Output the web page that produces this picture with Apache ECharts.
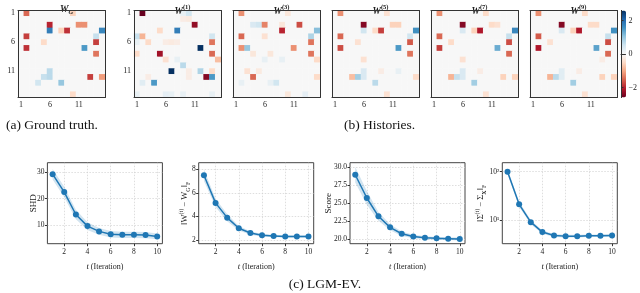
<!DOCTYPE html>
<html><head><meta charset="utf-8">
<script src="https://cdn.jsdelivr.net/npm/echarts@6/dist/echarts.min.js"></script>
<style>html,body{margin:0;padding:0;background:#fff}#c{width:640px;height:293px}</style>
</head><body><div id="c"></div>
<script>
const nodes = ['1','2','3','4','5','6','7','8','9','10','11','12','13','14','15'];
// sparse matrices: [row, col, value] (1-based)
const W_G = [[1,2,-1.5],[1,10,-0.6],[3,6,-2.0],[3,11,-1.2],[3,12,-1.2],[4,6,1.8],[4,8,-0.6],[4,9,-1.9],[4,15,1.7],
  [5,2,-1.8],[5,14,0.6],[6,5,-0.5],[6,14,-1.8],[7,2,-1.9],[7,12,1.5],[8,14,-1.4],[11,6,0.7],[12,5,0.6],[12,6,0.7],
  [12,13,-1.8],[12,15,-1.1],[13,4,0.5],[13,8,1.0],[15,10,-0.5]];
const W_1 = [[1,2,-2.6],[1,9,0.2],[1,10,0.5],[2,9,-0.2],[2,10,-0.25],[3,11,-2.3],[4,5,-0.5],[4,8,1.8],[5,1,0.6],[5,2,-0.9],
  [5,14,0.5],[6,1,0.2],[6,3,-0.5],[6,6,-0.2],[6,7,-0.25],[6,8,-0.2],[6,14,-1.4],[7,12,2.6],[8,1,-0.5],[8,5,-2.2],[8,14,-1.5],
  [9,6,-0.4],[9,8,0.2],[9,15,-0.8],[10,9,0.7],[11,7,2.6],[11,10,-0.2],[11,12,0.8],[11,14,-0.5],[12,3,-0.2],[12,10,-0.2],
  [12,13,-2.4],[12,14,1.5],[13,2,0.3],[13,4,1.5],[15,1,0.2],[15,6,0.25],[15,7,0.2],[15,9,0.2],[15,14,0.2]];
const W_3 = [[1,2,-1.2],[1,10,-0.3],[3,4,0.4],[3,5,0.5],[3,6,-1.3],[3,9,-0.3],[3,12,-1.7],[4,9,-2.0],[4,15,1.1],[5,2,-1.5],
  [5,6,-0.4],[5,14,0.8],[6,14,-1.4],[7,2,-1.2],[7,3,1.0],[7,11,-1.2],[8,4,-0.3],[8,7,-0.3],[8,14,-1.4],[9,6,0.2],[9,9,0.2],
  [9,15,-0.5],[11,3,-0.4],[11,5,-0.25],[12,4,-1.5],[12,15,-0.5],[13,2,0.2],[13,7,0.2],[13,8,0.5],[15,10,-0.3],[15,13,0.25]];
const W_5 = [[1,2,-1.2],[1,10,-0.4],[3,6,-2.4],[3,11,-0.6],[3,12,-0.6],[4,6,0.5],[4,8,-0.5],[4,9,-1.8],[4,15,1.6],[5,2,-1.5],
  [5,14,0.5],[6,5,-0.4],[6,14,-1.6],[7,2,-1.7],[7,12,1.5],[8,14,-1.4],[9,6,-0.4],[11,6,0.4],[11,9,-0.2],[11,12,0.2],
  [12,4,-0.8],[12,5,0.9],[12,6,0.4],[12,15,-0.5],[13,8,0.7],[15,10,-0.4]];
const W_7 = [[1,2,-1.2],[1,10,-0.5],[3,6,-2.4],[3,11,-0.5],[3,12,-0.4],[4,6,0.4],[4,8,-0.6],[4,9,-2.1],[4,15,1.7],[5,2,-1.5],
  [5,14,0.6],[6,4,-0.5],[6,14,-1.7],[7,2,-1.8],[7,12,1.3],[8,14,-1.5],[9,6,-0.4],[11,6,0.4],[11,9,-0.2],[12,4,-0.9],
  [12,5,0.6],[12,6,0.4],[12,13,-0.6],[12,15,-0.6],[13,8,0.9],[15,10,-0.4]];
const W_9 = [[1,2,-1.2],[1,10,-0.5],[3,6,-2.4],[3,11,-0.5],[3,12,-0.5],[4,6,0.4],[4,8,-0.6],[4,9,-2.1],[4,15,1.6],[5,2,-1.6],
  [5,14,0.6],[6,4,-0.4],[6,14,-1.7],[7,2,-2.1],[7,12,1.4],[8,14,-1.5],[9,13,-0.2],[11,6,0.3],[11,9,-0.2],[12,4,-0.9],
  [12,5,0.7],[12,6,0.3],[12,13,-0.6],[12,15,-0.6],[13,8,0.9],[15,10,-0.4]];
const matrixTitles = [['W','G','sub'],['W','(1)','sup'],['W','(3)','sup'],['W','(5)','sup'],['W','(7)','sup'],['W','(9)','sup']];
const colorbarTicks = [-2, 0, 2];

const iterations = [1,2,3,4,5,6,7,8,9,10];
const shdMean  = [29.3, 22.5, 14.0, 9.6, 7.6, 6.5, 6.3, 6.3, 6.2, 5.7];
const shdLow   = [27.3, 20.5, 12.2, 8.1, 6.3, 5.3, 5.1, 5.1, 5.0, 4.6];
const shdHigh  = [31.3, 24.5, 15.8, 11.1, 8.9, 7.7, 7.5, 7.5, 7.4, 6.8];
const wdMean   = [7.5, 5.15, 3.9, 3.0, 2.6, 2.4, 2.35, 2.3, 2.3, 2.3];
const wdLow    = [7.0, 4.8, 3.6, 2.8, 2.45, 2.28, 2.25, 2.2, 2.2, 2.2];
const wdHigh   = [8.0, 5.5, 4.2, 3.2, 2.75, 2.52, 2.45, 2.4, 2.4, 2.4];
const scoreMean= [28.97, 25.74, 23.2, 21.67, 20.78, 20.4, 20.22, 20.14, 20.1, 20.05];
const scoreLow = [27.9, 24.8, 22.6, 21.25, 20.48, 20.15, 20.02, 19.94, 19.9, 19.85];
const scoreHigh= [30.05, 26.7, 23.8, 22.1, 21.08, 20.65, 20.42, 20.34, 20.3, 20.25];
const sigMean  = [100, 21.4, 9.2, 5.75, 4.9, 4.75, 4.75, 4.85, 4.85, 4.9];
const sigLow   = [90, 19.0, 8.3, 5.3, 4.55, 4.45, 4.45, 4.55, 4.55, 4.6];
const sigHigh  = [112, 24.0, 10.2, 6.2, 5.25, 5.05, 5.05, 5.15, 5.15, 5.2];
const xTicks = [2,4,6,8,10];
const shdTicks = [10,20,30];
const wdTicks = [2,4,6,8];
const scoreTicks = [20,22.5,25,27.5,30];
const sigTicks = [10,100];

const FONT = 'Liberation Serif';
const RdBu = ['#67001f','#b2182b','#d6604d','#f4a582','#fddbc7','#f7f7f7','#d1e5f0','#92c5de','#4393c3','#2166ac','#053061'];
const matrices = [W_G, W_1, W_3, W_5, W_7, W_9];
const HM_LEFT = [18, 134, 233, 332, 431, 530];
const HM_TOP = 10.5, HM_SIZE = 87;
const LC_LEFT = [47.4, 198.7, 350, 502.3];
const LC_NAMEGAP = [9.5, 7.5, 17, 15];
const LC_TOP = 162.7, LC_W = 115, LC_H = 81;

function full(m){
  const out = [];
  for (let r = 0; r < 15; r++) for (let c = 0; c < 15; c++) out.push([c, r, 0]);
  m.forEach(([r,c,v]) => { out[(r-1)*15 + (c-1)][2] = v; });
  return out;
}

const grid = [], xAxis = [], yAxis = [], series = [], title = [];
const axisLineStyle = {lineStyle:{color:'#333', width:1}};
matrices.forEach((m, i) => {
  grid.push({left: HM_LEFT[i], top: HM_TOP, width: HM_SIZE, height: HM_SIZE});
  const gi = i;
  xAxis.push({type:'category', gridIndex: gi, data: nodes, position:'bottom', z:10,
    axisLine: axisLineStyle, axisTick:{interval:4, alignWithLabel:true, length:2.5, lineStyle:{color:'#333'}},
    axisLabel:{interval:4, fontFamily:FONT, fontSize:8, color:'#222', margin:3}, splitLine:{show:false}});
  xAxis.push({type:'category', gridIndex: gi, data: nodes, position:'top', z:10,
    axisLine: axisLineStyle, axisTick:{show:false}, axisLabel:{show:false}});
  yAxis.push({type:'category', gridIndex: gi, data: nodes, inverse:true, position:'left', z:10,
    axisLine: axisLineStyle, axisTick:{interval:4, alignWithLabel:true, length:2.5, lineStyle:{color:'#333'}},
    axisLabel:{show: i < 2, interval:4, fontFamily:FONT, fontSize:8, color:'#222', margin:3}, splitLine:{show:false}});
  yAxis.push({type:'category', gridIndex: gi, data: nodes, inverse:true, position:'right', z:10,
    axisLine: axisLineStyle, axisTick:{show:false}, axisLabel:{show:false}});
  series.push({type:'heatmap', xAxisIndex: 2*i, yAxisIndex: 2*i, data: full(m), itemStyle:{borderWidth:0}, emphasis:{disabled:true}});
  const t = matrixTitles[i];
  title.push({text: '{w|' + t[0] + '}{' + t[2] + '|' + t[1] + '}', left: HM_LEFT[i] + HM_SIZE/2, top: -1, textAlign:'center',
    textStyle:{rich:{
      w:{fontFamily:FONT, fontStyle:'italic', fontSize:9.5, color:'#222', lineHeight:12},
      sub:{fontFamily:FONT, fontStyle:'italic', fontSize:6.5, color:'#222', verticalAlign:'bottom', lineHeight:9},
      sup:{fontFamily:FONT, fontSize:6.5, color:'#222', verticalAlign:'top', lineHeight:15}
    }}});
});

// colorbar axis
const cbIndex = grid.length;
grid.push({left: 621, top: HM_TOP, width: 5, height: HM_SIZE});
xAxis.push({type:'value', gridIndex: cbIndex, show:false, min:0, max:1});
yAxis.push({type:'value', gridIndex: cbIndex, min:-2.6, max:2.6, position:'right', z:10,
  axisLine:{show:true, lineStyle:{color:'#333'}}, axisTick:{show:true, length:2.5, customValues: colorbarTicks, lineStyle:{color:'#333'}},
  axisLabel:{customValues: colorbarTicks, fontFamily:FONT, fontSize:8, color:'#222', margin:3,
    formatter: v => (v < 0 ? '\u2212' + Math.abs(v) : String(v))}, splitLine:{show:false}});
xAxis.push({type:'value', gridIndex: cbIndex, show:true, position:'top', min:0, max:1, z:10,
  axisLine:{show:true, lineStyle:{color:'#333'}}, axisTick:{show:false}, axisLabel:{show:false}, splitLine:{show:false}});
yAxis.push({type:'value', gridIndex: cbIndex, show:true, position:'left', min:-2.6, max:2.6, z:10,
  axisLine:{show:true, lineStyle:{color:'#333'}}, axisTick:{show:false}, axisLabel:{show:false}, splitLine:{show:false}});
series.push({type:'line', xAxisIndex: xAxis.length-2, yAxisIndex: yAxis.length-2, data: [], silent:true});

// line charts
const lineCharts = [
  {mean: shdMean, low: shdLow, high: shdHigh, ticks: shdTicks, min: 2.93, max: 33.65, type:'value', name:'SHD', fmt: v => String(v)},
  {mean: wdMean, low: wdLow, high: wdHigh, ticks: wdTicks, min: 1.69, max: 8.56, type:'value',
    name:'{a|\u2016W}{sup|(t)}{a| \u2212 W}{sub|G}{a|\u2016}{sub|F}', fmt: v => String(v)},
  {mean: scoreMean, low: scoreLow, high: scoreHigh, ticks: scoreTicks, min: 19.4, max: 30.64, type:'value', name:'Score', fmt: v => v.toFixed(1)},
  {mean: sigMean, low: sigLow, high: sigHigh, ticks: sigTicks, min: 3.32, max: 153, type:'log',
    name:'{a|\u2016\u03A3}{sup|(t)}{a| \u2212 \u03A3}{subb|X}{a|\u2016}{sub|F}', fmt: v => (v >= 100 ? '10\u00B2' : '10\u00B9')}
];
const gridLine = {show:true, lineStyle:{color:'#d0d0d0', type:[1.5,1.5], width:0.7}};
function bandRender(params, api) {
  if (params.dataIndex !== 0) return null;
  const n = iterations.length, up = [], lo = [];
  for (let j = 0; j < n; j++) {
    up.push(api.coord([api.value(0, j), api.value(2, j)]));
    lo.push(api.coord([api.value(0, j), api.value(1, j)]));
  }
  return {type:'polygon', shape:{points: up.concat(lo.reverse())}, style:{fill:'rgba(31,119,180,0.2)'}};
}
lineCharts.forEach((lc, k) => {
  const gi = grid.length;
  grid.push({left: LC_LEFT[k], top: LC_TOP, width: LC_W, height: LC_H, show:true, borderColor:'#444', borderWidth:1});
  xAxis.push({type:'value', gridIndex: gi, min:0.55, max:10.45, name:'{i|t} (Iteration)', nameLocation:'middle', nameGap:19,
    nameMoveOverlap:false,
    nameTextStyle:{rich:{i:{fontFamily:FONT, fontStyle:'italic', fontSize:8.5, color:'#222'}}, fontFamily:FONT, fontSize:8, color:'#222'},
    axisLine:{show:false}, axisTick:{show:true, length:2.5, customValues: xTicks, lineStyle:{color:'#333'}},
    axisLabel:{customValues: xTicks, fontFamily:FONT, fontSize:7.5, color:'#222', margin:4},
    splitLine: gridLine});
  const yA = {type: lc.type, gridIndex: gi, min: lc.min, max: lc.max, name: lc.name, nameLocation:'middle', nameRotate:90,
    nameGap: LC_NAMEGAP[k], nameMoveOverlap:false,
    nameTextStyle:{fontFamily:FONT, fontSize:9, color:'#222', rich:{
      a:{fontFamily:FONT, fontSize:8.5, color:'#222'},
      sup:{fontFamily:FONT, fontSize:6, color:'#222', verticalAlign:'top', lineHeight:13},
      sub:{fontFamily:FONT, fontSize:6, color:'#222', verticalAlign:'bottom', lineHeight:7},
      subb:{fontFamily:FONT, fontSize:6, fontWeight:'bold', color:'#222', verticalAlign:'bottom', lineHeight:7}
    }},
    axisLine:{show:false}, axisTick:{show:true, length:2.5, customValues: lc.ticks, lineStyle:{color:'#333'}},
    axisLabel:{customValues: lc.ticks, fontFamily:FONT, fontSize:7.5, color:'#222', margin:3, formatter: lc.fmt},
    splitLine: gridLine};
  if (lc.type === 'log') yA.logBase = 10;
  yAxis.push(yA);
  const xi = xAxis.length-1, yi = yAxis.length-1;
  series.push({type:'custom', xAxisIndex: xi, yAxisIndex: yi, silent:true, clip:true, renderItem: bandRender,
    encode:{x:0, y:[1,2]}, data: iterations.map((x,j) => [x, lc.low[j], lc.high[j]]), z:2});
  series.push({type:'line', xAxisIndex: xi, yAxisIndex: yi, symbol:'circle', symbolSize:6, silent:true,
    lineStyle:{color:'#1f77b4', width:1.5}, itemStyle:{color:'#1f77b4'}, z:5,
    data: iterations.map((x,j) => [x, lc.mean[j]])});
});

title.push({text:'(a) Ground truth.', left:1, top:113, textStyle:{fontFamily:FONT, fontSize:13.5, fontWeight:'normal', color:'#111'}});
title.push({text:'(b) Histories.', left:339, top:113, textStyle:{fontFamily:FONT, fontSize:13.5, fontWeight:'normal', color:'#111'}});
title.push({text:'(c) LGM-EV.', left:320, top:272, textAlign:'center', textStyle:{fontFamily:FONT, fontSize:13.5, fontWeight:'normal', color:'#111'}});

const chart = echarts.init(document.getElementById('c'), null, {renderer:'canvas'});
chart.setOption({
  backgroundColor:'#fff',
  animation:false,
  title, grid, xAxis, yAxis, series,
  visualMap:{type:'continuous', min:-2.6, max:2.6, seriesIndex:[0,1,2,3,4,5], show:true, calculable:false,
    left:621, top:HM_TOP, itemWidth:5, itemHeight:HM_SIZE, padding:0, text:null, showLabel:false,
    inRange:{color: RdBu}}
});
</script></body></html>
